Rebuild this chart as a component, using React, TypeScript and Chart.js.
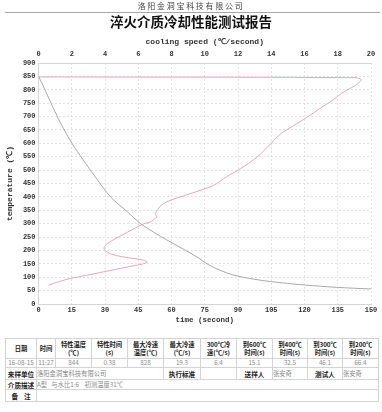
import React, { useEffect, useRef } from "react";
import { Chart, registerables } from "chart.js";

Chart.register(...registerables);

// Temperature vs time (grey curve, bottom axis)
const timeSec = [0, 1.5, 5, 10, 15.1, 20, 25, 32.5, 40, 46.1, 55, 66.4, 72, 76, 80, 85, 90, 100, 110, 120, 135, 150];
const tempByTime = [850, 826, 762, 675, 600, 540, 482, 400, 345, 300, 253, 200, 173, 150, 133, 116, 104, 89, 79, 71, 62, 56];

// Cooling speed vs temperature (red curve, top axis)
const coolSpeed = [0, 19.1, 19.4, 19.35, 19.0, 18.3, 17.66, 17.16, 16.36, 15.4, 14.55, 14.05, 13.14, 12.14, 11.3, 10.53, 9.13, 7.92, 7.4, 7.22, 7.02, 7.12, 6.9, 6.72, 6.35, 5.8, 5.2, 4.6, 4.15, 3.95, 4.0, 4.4, 5.0, 5.7, 6.3, 6.55, 6.3, 5.5, 4.7, 3.9, 2.9, 1.9, 1.2, 0.6];
const tempBySpeed = [848, 845, 839, 831, 814, 790, 759, 740, 706, 668, 635, 604, 548, 505, 475, 443, 412, 387, 370, 356, 337, 325, 314, 306, 300, 283, 263, 243, 226, 212, 200, 186, 177, 170, 164, 157, 150, 140, 130, 120, 107, 95, 83, 70];

const headerCells = ["日期", "时间", "特性温度\n(℃)", "特性时间\n(s)", "最大冷速\n温度(℃)", "最大冷速\n(℃/s)", "300℃冷\n速(℃/s)", "到600℃\n时间(s)", "到400℃\n时间(s)", "到300℃\n时间(s)", "到200℃\n时间(s)"];
const dataCells = ["16-08-15", "11:27", "844", "0.38", "828", "19.3", "6.4", "15.1", "32.5", "46.1", "66.4"];
const colWidths = [31, 19, 36, 36, 36, 37, 36, 36, 35, 35, 36];

const PLOT_TOP = 63;
const PLOT_BOTTOM = 304;
const PLOT_LEFT = 38.5;
const PLOT_RIGHT = 371;
const CANVAS_W = 382;
const CANVAS_H = 332;
const PAD_TOP = 30;
const BOTTOM_AXIS_H = 22;

const mono = "'Liberation Mono', 'DejaVu Sans Mono', monospace";
const cjk = "'Noto Sans CJK SC', sans-serif";

export default function App() {
  const ref = useRef<HTMLCanvasElement | null>(null);

  useEffect(() => {
    if (!ref.current) return;
    const gridColor = "#e2e2e2";
    const tickFont = { family: mono, size: 7, weight: "bold" as const };
    const titleFont = { family: mono, size: 8, weight: "bold" as const };
    const chart = new Chart(ref.current, {
      type: "scatter",
      data: {
        datasets: [
          {
            data: timeSec.map((t, i) => ({ x: t, y: tempByTime[i] })),
            xAxisID: "x",
            yAxisID: "y",
            showLine: true,
            borderColor: "#a8a8a8",
            borderWidth: 1,
            pointRadius: 0,
            tension: 0.3,
          },
          {
            data: coolSpeed.map((s, i) => ({ x: s, y: tempBySpeed[i] })),
            xAxisID: "x2",
            yAxisID: "y",
            showLine: true,
            borderColor: "#e2a9ba",
            borderWidth: 1,
            pointRadius: 0,
            tension: 0.3,
          },
        ],
      },
      options: {
        responsive: false,
        animation: false,
        layout: {
          padding: {
            top: PAD_TOP,
            left: 0,
            right: CANVAS_W - PLOT_RIGHT,
            bottom: CANVAS_H - PLOT_BOTTOM - BOTTOM_AXIS_H,
          },
        },
        plugins: { legend: { display: false }, tooltip: { enabled: false } },
        scales: {
          x: {
            type: "linear",
            position: "bottom",
            min: 0,
            max: 150,
            ticks: { stepSize: 15, color: "#333", font: tickFont, padding: 1.8, maxRotation: 0 },
            grid: { color: gridColor, drawTicks: false },
            border: { color: "#d4d4d4", dash: [2, 2] },
            title: { display: true, text: "time (second)", color: "#333", font: { ...titleFont, size: 7.5 }, padding: { top: 0, bottom: 1.5 } },
            afterFit: (axis: any) => { axis.height = BOTTOM_AXIS_H; },
          },
          x2: {
            type: "linear",
            position: "top",
            min: 0,
            max: 20,
            ticks: { stepSize: 2, color: "#333", font: tickFont, padding: 4.3, maxRotation: 0 },
            grid: { display: false, drawTicks: false },
            border: { color: "#d4d4d4" },
            title: { display: true, text: "cooling speed (℃/second)", color: "#333", font: titleFont, padding: { top: 7.2, bottom: 0 } },
            afterFit: (axis: any) => { axis.height = PLOT_TOP - PAD_TOP; },
          },
          y: {
            type: "linear",
            position: "left",
            min: 0,
            max: 900,
            ticks: { stepSize: 50, color: "#333", font: tickFont, padding: 3 },
            grid: { color: gridColor, drawTicks: false },
            border: { color: "#d4d4d4", dash: [2, 2] },
            title: { display: true, text: "temperature (℃)", color: "#333", font: titleFont, padding: { top: 5.2, bottom: 0 } },
            afterFit: (axis: any) => { axis.width = PLOT_LEFT; },
          },
        },
      },
    });
    return () => chart.destroy();
  }, []);

  const cellBase: React.CSSProperties = {
    border: "1px solid #d4d4d4",
    padding: 0,
    fontFamily: cjk,
    fontSize: "6.3px",
    lineHeight: "8px",
    textAlign: "center",
    verticalAlign: "middle",
    overflow: "hidden",
    whiteSpace: "pre",
  };
  const bold: React.CSSProperties = { ...cellBase, fontWeight: "bold", color: "#222" };
  const val: React.CSSProperties = { ...cellBase, color: "#8a8a8a" };
  const valLeft: React.CSSProperties = { ...val, textAlign: "left" };
  const label: React.CSSProperties = { ...bold, fontSize: "6.6px" };

  return (
    <div style={{ position: "absolute", left: 0, top: 0, width: CANVAS_W, height: 412, background: "#fff" }}>
      <canvas ref={ref} width={CANVAS_W} height={CANVAS_H} style={{ position: "absolute", left: 0, top: 0, width: CANVAS_W, height: CANVAS_H, display: "block" }} />
      <div style={{ position: "absolute", left: 0, top: 0, width: CANVAS_W, height: 11, lineHeight: "11px", textAlign: "center", fontFamily: cjk, fontSize: "8px", letterSpacing: "1.7px", color: "#444" }}>
        洛阳金洞宝科技有限公司
      </div>
      <div style={{ position: "absolute", left: 5, top: 12, width: 375, height: 1, background: "#a8a8a8" }} />
      <div style={{ position: "absolute", left: 0, top: 13, width: CANVAS_W, height: 16, lineHeight: "16px", textAlign: "center", fontFamily: cjk, fontSize: "13.5px", fontWeight: "bold", color: "#111" }}>
        淬火介质冷却性能测试报告
      </div>
      <table style={{ position: "absolute", left: 5, top: 338, width: 373, borderCollapse: "collapse", tableLayout: "fixed" }}>
        <colgroup>
          {colWidths.map((w, i) => (
            <col key={i} style={{ width: w }} />
          ))}
        </colgroup>
        <tbody>
          <tr style={{ height: 20 }}>
            {headerCells.map((h, i) => (
              <td key={i} style={bold}>{h}</td>
            ))}
          </tr>
          <tr style={{ height: 8 }}>
            {dataCells.map((d, i) => (
              <td key={i} style={val}>{d}</td>
            ))}
          </tr>
          <tr style={{ height: 12 }}>
            <td style={label}>来样单位</td>
            <td style={valLeft} colSpan={4}>洛阳金洞宝科技有限公司</td>
            <td style={label}>执行标准</td>
            <td style={val}></td>
            <td style={label}>送样人</td>
            <td style={valLeft}>张安奇</td>
            <td style={label}>测试人</td>
            <td style={valLeft}>张安奇</td>
          </tr>
          <tr style={{ height: 10 }}>
            <td style={label}>介质描述</td>
            <td style={valLeft} colSpan={10}>{"A型   与水比1:6    初测温度31℃"}</td>
          </tr>
          <tr style={{ height: 12 }}>
            <td style={label}>{"备    注"}</td>
            <td style={val} colSpan={10}></td>
          </tr>
        </tbody>
      </table>
    </div>
  );
}
